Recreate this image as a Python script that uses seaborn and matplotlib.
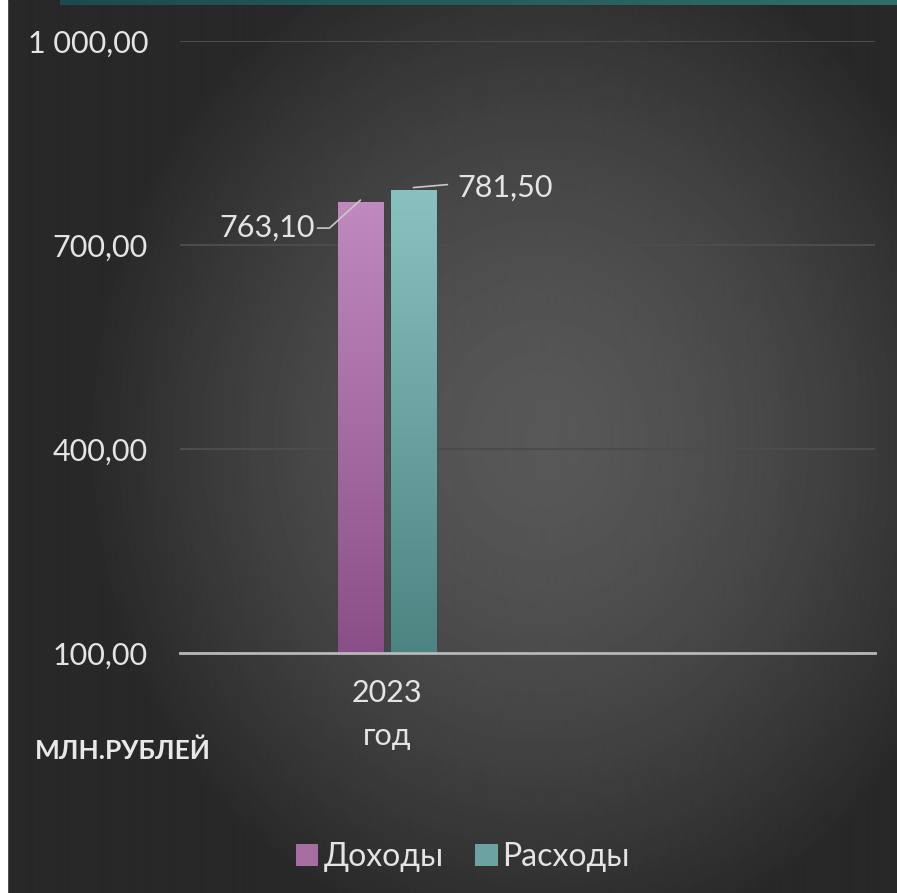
import numpy as np
import pandas as pd
import matplotlib
matplotlib.use("Agg")
import matplotlib.pyplot as plt
import seaborn as sns
from matplotlib.colors import LinearSegmentedColormap
from matplotlib.patches import Rectangle
from matplotlib.lines import Line2D
from matplotlib.transforms import ScaledTranslation

# --- data ---
categories = ["2023\nгод"]
series = ["Доходы", "Расходы"]
values = [763.10, 781.50]
value_labels = ["763,10", "781,50"]
y_ticks = [100, 400, 700, 1000]
y_tick_labels = ["100,00", "400,00", "700,00", "1 000,00"]
unit_label = "МЛН.РУБЛЕЙ"

colors_top = ["#c08abe", "#8ac2c1"]
colors_bottom = ["#8a4f86", "#4c8482"]
text_color = "#e4e4e4"

df = pd.DataFrame({"year": categories * len(series), "series": series, "value": values})

sns.set_theme(style="dark")
plt.rcParams["font.family"] = ["Lato", "DejaVu Sans"]

fig = plt.figure(figsize=(8.97, 8.93), dpi=100)

# radial dark background
bg = fig.add_axes([0, 0, 1, 1], zorder=-10)
h, w = 893, 897
yy, xx = np.mgrid[0:h, 0:w]
r = np.sqrt(((xx - 540) / 460) ** 2 + ((yy - 440) / 520) ** 2)
v = np.clip(88 - 48 * r ** 1.5, 40, 88) / 255
bg.imshow(v, cmap="gray", vmin=0, vmax=1, extent=[0, 1, 0, 1], aspect="auto")
bg.axis("off")

# slide decorations: white left strip, teal top band
fig.patches.append(Rectangle((0, 0), 7 / w, 1, transform=fig.transFigure, color="white", zorder=-5))
band = np.linspace(0, 1, 256).reshape(1, -1)
band_ax = fig.add_axes([60 / w, 1 - 5 / h, 1 - 60 / w, 5 / h], zorder=-5)
band_ax.imshow(band, cmap=LinearSegmentedColormap.from_list("band", ["#1c4a50", "#2f6f68"]), aspect="auto")
band_ax.axis("off")

ax = fig.add_axes([180 / w, 1 - 653 / h, 695 / w, 612 / h])
ax.set_facecolor("none")
sns.barplot(data=df, x="year", y="value", hue="series", palette=colors_top,
            width=0.4, gap=0.15, saturation=1, legend=False, ax=ax, zorder=3)

# gradient fill of the bars
grad = np.linspace(0, 1, 256).reshape(-1, 1)
for p, ct, cb in zip(ax.patches, colors_top, colors_bottom):
    cmap = LinearSegmentedColormap.from_list("bar", [cb, ct])
    im = ax.imshow(grad, cmap=cmap, origin="lower", aspect="auto", zorder=3,
                   extent=[p.get_x(), p.get_x() + p.get_width(), 100, p.get_height()])
    im.set_clip_path(p)
    p.set_facecolor("none")
    p.set_edgecolor("#3a3a3a")
    p.set_linewidth(1)

ax.set_xlim(-0.781, 1.842)
ax.set_ylim(100, 1000)
ax.set_yticks(y_ticks, y_tick_labels)
ax.set_xlabel("")
ax.set_ylabel("")
ax.yaxis.grid(True, color="#4c4c4c", lw=1.5)
ax.xaxis.grid(False)
for s in ["top", "left", "right"]:
    ax.spines[s].set_visible(False)
ax.spines["bottom"].set_color("#b8b8b8")
ax.spines["bottom"].set_linewidth(2)
ax.spines["bottom"].set_zorder(4)
ax.tick_params(axis="y", length=0, pad=23, labelsize=22, labelcolor=text_color)
ax.tick_params(axis="x", length=0, pad=19, labelsize=22, labelcolor=text_color)
for t in ax.get_xticklabels():
    t.set_linespacing(1.65)

# data labels with leader lines (offsets in inches from bar top)
leaders = [
    ([0, -0.31, -0.43], [0.02, -0.26, -0.26], (-0.46, -0.26), "right"),
    ([0, 0.34], [0.02, 0.05], (0.44, 0.02), "left"),
]
for p, lab, (lx, ly, (tx, ty), ha) in zip(ax.patches, value_labels, leaders):
    xc = p.get_x() + p.get_width() / 2
    tr = fig.dpi_scale_trans + ScaledTranslation(xc, p.get_height(), ax.transData)
    ax.add_line(Line2D(lx, ly, transform=tr, color="#c8c8c8", lw=1.2, zorder=5, clip_on=False))
    ax.text(tx, ty, lab, transform=tr, ha=ha, va="center", fontsize=22, color=text_color, zorder=5)

fig.text(35 / w, 1 - 751 / h, unit_label, ha="left", va="center", fontsize=19,
         fontweight="bold", color="#e8e8e8")

handles = [Rectangle((0, 0), 1, 1, facecolor=c, edgecolor="none") for c in
           [LinearSegmentedColormap.from_list("m", [b, t])(0.5) for b, t in zip(colors_bottom, colors_top)]]
fig.legend(handles, series, loc="center", bbox_to_anchor=(463 / w, 1 - 857 / h), ncol=2,
           frameon=False, fontsize=23, labelcolor=text_color, handlelength=0.7, handleheight=0.7,
           handletextpad=0.15, columnspacing=1.0)

fig.savefig("out.png", dpi=100)
